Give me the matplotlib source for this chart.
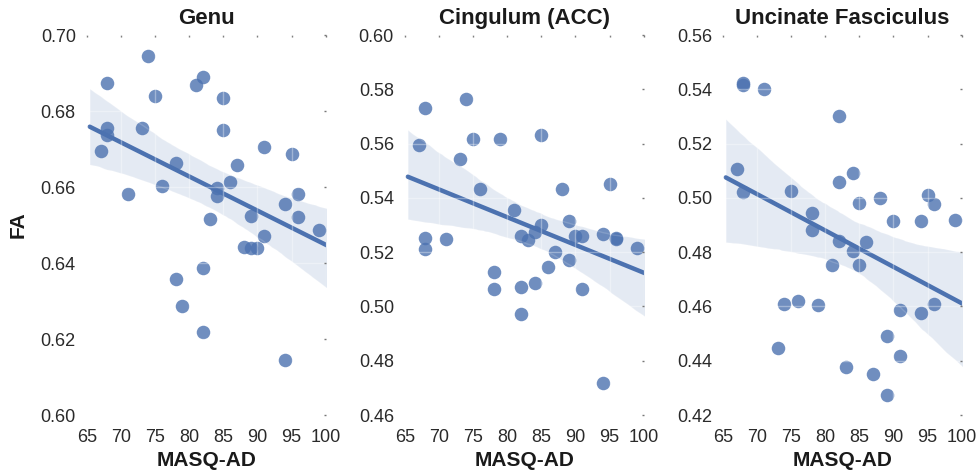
import numpy as np
import matplotlib
matplotlib.use("Agg")
import matplotlib.pyplot as plt
import seaborn as sns

masq_ad = [67, 68, 68, 68, 71, 73, 74, 75, 76, 78, 78, 79, 81, 82, 82, 82, 83,
           84, 84, 85, 85, 86, 87, 88, 89, 89, 90, 91, 91, 94, 94, 95, 96, 96, 99]

genu_x = [74, 68, 82, 81, 75, 85, 68, 68, 73, 85, 67, 91, 95, 78, 87, 76, 71, 86,
          84, 84, 94, 96, 96, 83, 89, 99, 91, 88, 89, 90, 82, 78, 79, 82, 94]
genu_y = [0.6945, 0.6874, 0.6889, 0.6868, 0.6840, 0.6834, 0.6755, 0.6738, 0.6754,
          0.6751, 0.6696, 0.6704, 0.6686, 0.6662, 0.6659, 0.6603, 0.6581, 0.6614,
          0.6598, 0.6576, 0.6556, 0.6582, 0.6521, 0.6517, 0.6523, 0.6488, 0.6472,
          0.6441, 0.6439, 0.6439, 0.6386, 0.6359, 0.6286, 0.6219, 0.6145]

cing_x = [74, 68, 67, 75, 79, 85, 73, 76, 88, 95, 81, 85, 89, 68, 68, 71, 82, 83,
          84, 90, 91, 94, 96, 96, 99, 87, 89, 86, 78, 78, 82, 84, 91, 82, 94]
cing_y = [0.5765, 0.5732, 0.5596, 0.5618, 0.5616, 0.5630, 0.5543, 0.5434, 0.5434,
          0.5452, 0.5354, 0.5300, 0.5314, 0.5252, 0.5210, 0.5250, 0.5258, 0.5245,
          0.5275, 0.5259, 0.5259, 0.5268, 0.5253, 0.5247, 0.5217, 0.5201, 0.5172,
          0.5144, 0.5127, 0.5065, 0.5073, 0.5085, 0.5063, 0.4973, 0.4717]

unc_x = [68, 68, 71, 82, 67, 68, 75, 82, 84, 85, 88, 78, 78, 90, 94, 95, 96, 99,
         82, 84, 86, 81, 85, 74, 76, 79, 91, 94, 96, 89, 73, 91, 83, 87, 89]
unc_y = [0.5424, 0.5416, 0.5402, 0.5302, 0.5105, 0.5022, 0.5027, 0.5058, 0.5090,
         0.4982, 0.4999, 0.4944, 0.4883, 0.4916, 0.4916, 0.5012, 0.4976, 0.4917,
         0.4841, 0.4805, 0.4837, 0.4754, 0.4751, 0.4609, 0.4620, 0.4605, 0.4587,
         0.4577, 0.4609, 0.4491, 0.4448, 0.4416, 0.4377, 0.4352, 0.4274]

titles = ["Genu", "Cingulum (ACC)", "Uncinate Fasciculus"]
xticks = [65, 70, 75, 80, 85, 90, 95, 100]
yticks_list = [[0.60, 0.62, 0.64, 0.66, 0.68, 0.70],
               [0.46, 0.48, 0.50, 0.52, 0.54, 0.56, 0.58, 0.60],
               [0.42, 0.44, 0.46, 0.48, 0.50, 0.52, 0.54, 0.56]]
panels = [(genu_x, genu_y), (cing_x, cing_y), (unc_x, unc_y)]

sns.set_style("white")
plt.rcParams['font.family'] = ['Liberation Sans', 'DejaVu Sans']
color = "#4C72B0"

fig = plt.figure(figsize=(9.76, 4.73), dpi=100)
lefts = [0.0891, 0.415, 0.7408]
for i, ((xs, ys), title, yt) in enumerate(zip(panels, titles, yticks_list)):
    ax = fig.add_axes([lefts[i], 0.1226, 0.2445, 0.8034])
    sns.regplot(x=np.array(xs, dtype=float), y=np.array(ys), ax=ax, color=color,
                truncate=False, seed=0, n_boot=1000,
                scatter_kws=dict(s=95, alpha=0.8, linewidths=0),
                line_kws=dict(lw=3.2))
    ax.set_xlim(65, 100)
    ax.set_ylim(yt[0], yt[-1])
    ax.set_xticks(xticks)
    ax.set_yticks(yt)
    ax.set_yticklabels([f"{v:.2f}" for v in yt])
    ax.grid(True, color="white", lw=1, alpha=0.35)
    ax.set_axisbelow(False)
    for sp in ax.spines.values():
        sp.set_visible(False)
    ax.tick_params(axis='both', which='both', direction='in', length=1.5, width=1,
                   color='#777777', labelsize=13, labelcolor='#2a2a2a',
                   top=True, right=True)
    ax.tick_params(axis='x', pad=10)
    ax.tick_params(axis='y', pad=8)
    ax.set_title(title, fontsize=16, fontweight='bold', color='#1a1a1a', pad=8)
    ax.set_xlabel("MASQ-AD", fontsize=15, fontweight='bold', color='#1a1a1a', labelpad=4)
    if i == 0:
        ax.set_ylabel("FA", fontsize=15, fontweight='bold', color='#1a1a1a', labelpad=9)
    else:
        ax.set_ylabel("")

fig.savefig("out.png", dpi=100)
